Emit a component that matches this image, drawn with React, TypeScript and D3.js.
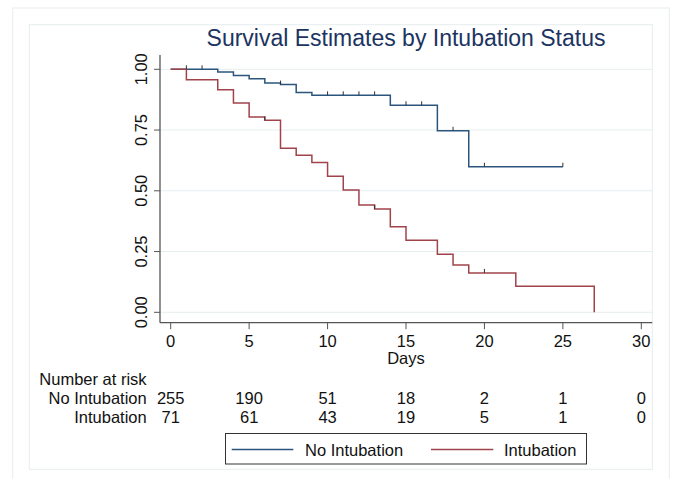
import * as d3 from "d3";

// Kaplan-Meier estimates
const noIntTimes = [0, 3, 4, 5, 6, 7, 8, 9, 14, 17, 19, 25];
const noIntSurv = [1.0, 0.989, 0.975, 0.961, 0.944, 0.937, 0.905, 0.893, 0.852, 0.747, 0.599, 0.599];
const noIntCensor = [1, 2, 7, 10, 11, 12, 13, 15, 16, 18, 20, 25];

const intTimes = [0, 1, 3, 4, 5, 6, 7, 8, 9, 10, 11, 12, 13, 14, 15, 17, 18, 19, 22, 27];
const intSurv = [1.0, 0.957, 0.916, 0.861, 0.804, 0.79, 0.675, 0.646, 0.616, 0.56, 0.503, 0.442, 0.425, 0.352, 0.297, 0.239, 0.195, 0.162, 0.107, 0];
const intCensor = [6, 13, 20];

const xTicks = [0, 5, 10, 15, 20, 25, 30];
const yTicks = [0, 0.25, 0.5, 0.75, 1];
const atRiskNoInt = [255, 190, 51, 18, 2, 1, 0];
const atRiskInt = [71, 61, 43, 19, 5, 1, 0];

const W = 675;
const H = 479;
const font = "'Liberation Sans', Arial, Helvetica, sans-serif";
const blue = "#2b557c";
const red = "#a0434b";
const frame = "#e6eef0";

export default function App() {
  const x = d3.scaleLinear().domain([0, 30]).range([170.7, 641.3]);
  const y = d3.scaleLinear().domain([0, 1]).range([312.3, 69.3]);

  const line = d3
    .line<[number, number]>()
    .x((d) => x(d[0]))
    .y((d) => y(d[1]))
    .curve(d3.curveStepAfter);

  const noIntPts = noIntTimes.map((t, i) => [t, noIntSurv[i]] as [number, number]);
  const intPts = intTimes.map((t, i) => [t, intSurv[i]] as [number, number]);

  // survival value at a given time (step function)
  const survAt = (times: number[], surv: number[], t: number) => {
    let v = surv[0];
    times.forEach((tt, i) => {
      if (tt <= t) v = surv[i];
    });
    return v;
  };

  const axisY = 322.7;
  const axisX = 160;
  const plotRight = 652.3;

  return (
    <svg
      width={W}
      height={H}
      viewBox={`0 0 ${W} ${H}`}
      style={{ position: "absolute", left: 0, top: 0 }}
      fontFamily={font}
    >
      <rect x={0} y={0} width={W} height={H} fill="#fff" />
      {/* outer and inner regions */}
      <rect x={12.7} y={8} width={656.6} height={475} fill="none" stroke={frame} />
      <rect x={29.3} y={24.7} width={623} height={444.6} fill="none" stroke={frame} />

      <text x={406} y={45.5} textAnchor="middle" fontSize={23} fill="#1c3461">
        Survival Estimates by Intubation Status
      </text>

      {/* grid */}
      {yTicks.map((t) => (
        <line key={t} x1={axisX} x2={plotRight} y1={y(t)} y2={y(t)} stroke={frame} strokeWidth={1} />
      ))}

      {/* curves */}
      <path d={line(noIntPts) ?? ""} fill="none" stroke={blue} strokeWidth={1.5} />
      <path d={line(intPts) ?? ""} fill="none" stroke={red} strokeWidth={1.5} />

      {/* censoring ticks */}
      {noIntCensor.map((t) => {
        const v = survAt(noIntTimes, noIntSurv, t);
        return <line key={"b" + t} x1={x(t)} x2={x(t)} y1={y(v)} y2={y(v) - 4} stroke="#333" strokeWidth={1} />;
      })}
      {intCensor.map((t) => {
        const v = survAt(intTimes, intSurv, t);
        return <line key={"r" + t} x1={x(t)} x2={x(t)} y1={y(v)} y2={y(v) - 4} stroke="#333" strokeWidth={1} />;
      })}

      {/* axes */}
      <line x1={axisX} x2={axisX} y1={55} y2={axisY} stroke="#555" strokeWidth={1.3} />
      <line x1={axisX} x2={plotRight} y1={axisY} y2={axisY} stroke="#555" strokeWidth={1.3} />
      {yTicks.map((t) => (
        <g key={t}>
          <line x1={axisX - 6} x2={axisX} y1={y(t)} y2={y(t)} stroke="#555" />
          <text
            transform={`translate(146.5,${y(t)}) rotate(-90)`}
            textAnchor="middle"
            fontSize={16.5}
            fill="#111"
          >
            {d3.format(".2f")(t)}
          </text>
        </g>
      ))}
      {xTicks.map((t) => (
        <g key={t}>
          <line x1={x(t)} x2={x(t)} y1={axisY} y2={axisY + 6.5} stroke="#555" />
          <text x={x(t)} y={346.5} textAnchor="middle" fontSize={16.5} fill="#111">
            {t}
          </text>
        </g>
      ))}
      <text x={406} y={363.5} textAnchor="middle" fontSize={16.5} fill="#111">
        Days
      </text>

      {/* number at risk */}
      <text x={39.3} y={385} fontSize={16.5} fill="#111">
        Number at risk
      </text>
      <text x={146.7} y={404.3} textAnchor="end" fontSize={16.5} fill="#111">
        No Intubation
      </text>
      <text x={146.7} y={423.3} textAnchor="end" fontSize={16.5} fill="#111">
        Intubation
      </text>
      {xTicks.map((t, i) => (
        <g key={"n" + t}>
          <text x={x(t)} y={404.3} textAnchor="middle" fontSize={16.5} fill="#111">
            {atRiskNoInt[i]}
          </text>
          <text x={x(t)} y={423.3} textAnchor="middle" fontSize={16.5} fill="#111">
            {atRiskInt[i]}
          </text>
        </g>
      ))}

      {/* legend */}
      <rect x={225.5} y={433.5} width={361} height={30.5} fill="#fff" stroke="#333" strokeWidth={1} />
      <line x1={231.7} x2={293.3} y1={449.5} y2={449.5} stroke={blue} strokeWidth={1.3} />
      <text x={305} y={455.5} fontSize={16.5} fill="#111">
        No Intubation
      </text>
      <line x1={431} x2={493.3} y1={449.5} y2={449.5} stroke={red} strokeWidth={1.3} />
      <text x={504} y={455.5} fontSize={16.5} fill="#111">
        Intubation
      </text>
    </svg>
  );
}
